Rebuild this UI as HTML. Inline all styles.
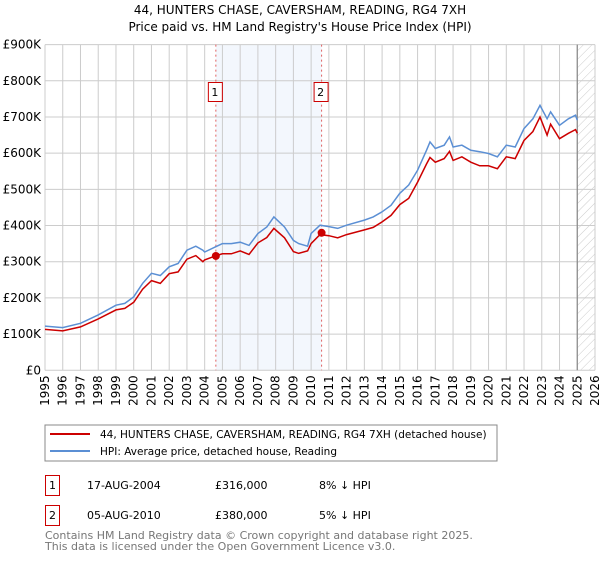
<!DOCTYPE html>
<html><head><meta charset="utf-8"><style>
body{margin:0;background:#fff;font-family:"DejaVu Sans","Liberation Sans",sans-serif;}
svg text{font-family:"DejaVu Sans","Liberation Sans",sans-serif;}
</style></head><body>
<svg id="chart" width="600" height="560" viewBox="0 0 600 560">
<defs><pattern id="hatch" width="6" height="6" patternUnits="userSpaceOnUse" patternTransform="rotate(45)"><line x1="0" y1="0" x2="0" y2="6" stroke="#ccc" stroke-width="1"/></pattern></defs>
<text x="300" y="14" text-anchor="middle" font-size="12">44, HUNTERS CHASE, CAVERSHAM, READING, RG4 7XH</text>
<text x="300" y="31" text-anchor="middle" font-size="12">Price paid vs. HM Land Registry's House Price Index (HPI)</text>
<g id="plot"></g>
<rect x="45" y="425" width="452" height="36" fill="#fff" stroke="#888"/>
<line x1="50" y1="434" x2="90" y2="434" stroke="#cc0000" stroke-width="2"/>
<text x="100" y="438" font-size="10.5">44, HUNTERS CHASE, CAVERSHAM, READING, RG4 7XH (detached house)</text>
<line x1="50" y1="451" x2="90" y2="451" stroke="#5b8fd4" stroke-width="2"/>
<text x="100" y="455" font-size="10.5">HPI: Average price, detached house, Reading</text>
<g>
<rect x="45.5" y="475.5" width="14" height="20" fill="none" stroke="#cc0000"/>
<text x="52.5" y="489" text-anchor="middle" font-size="11">1</text>
<text x="87" y="489" font-size="11">17-AUG-2004</text>
<text x="215" y="489" font-size="11">£316,000</text>
<text x="319" y="489" font-size="11">8% ↓ HPI</text></g>
<g>
<rect x="45.5" y="505.5" width="14" height="20" fill="none" stroke="#cc0000"/>
<text x="52.5" y="519" text-anchor="middle" font-size="11">2</text>
<text x="87" y="519" font-size="11">05-AUG-2010</text>
<text x="215" y="519" font-size="11">£380,000</text>
<text x="319" y="519" font-size="11">5% ↓ HPI</text></g>
<text x="45" y="539" font-size="11" fill="#777">Contains HM Land Registry data © Crown copyright and database right 2025.</text>
<text x="45" y="550" font-size="11" fill="#777">This data is licensed under the Open Government Licence v3.0.</text>
</svg>
<script>
const dates=[1995,1996,1997,1998,1999,1999.5,2000,2000.5,2001,2001.5,2002,2002.5,2003,2003.5,2003.9,2004,2004.6,2005,2005.5,2006,2006.5,2007,2007.5,2007.9,2008.5,2009,2009.3,2009.8,2010,2010.5,2011,2011.5,2012,2013,2013.5,2014,2014.5,2015,2015.5,2016,2016.5,2016.7,2017,2017.5,2017.8,2018,2018.5,2019,2019.5,2020,2020.5,2021,2021.5,2022,2022.5,2022.9,2023.3,2023.5,2024,2024.5,2024.9,2025.0];
const hpiValues=[122,118,130,153,180,185,203,240,268,262,286,295,332,343,332,327,341,350,350,354,345,378,396,424,396,359,350,343,378,401,397,392,401,415,424,438,456,489,512,553,608,631,613,622,645,617,622,608,604,599,590,622,617,668,695,732,695,714,677,695,705,691];
const priceValues=[113,109,120,142,167,171,188,224,248,240,267,272,307,317,300,305,316,322,322,330,320,352,367,392,366,328,323,330,350,375,372,366,375,388,395,410,428,458,475,520,570,588,575,585,605,580,590,575,565,565,557,590,585,635,660,700,650,680,640,655,665,655];
const saleDates=[2004.63,2010.59];
const salePrices=[316,380];
const saleLabels=["1","2"];
const yTicks=[0,100,200,300,400,500,600,700,800,900];
const yTickLabels=["£0","£100K","£200K","£300K","£400K","£500K","£600K","£700K","£800K","£900K"];
const xTicks=[1995,1996,1997,1998,1999,2000,2001,2002,2003,2004,2005,2006,2007,2008,2009,2010,2011,2012,2013,2014,2015,2016,2017,2018,2019,2020,2021,2022,2023,2024,2025,2026];
const X0=45,X1=595,Y0=370.3,Y1=44.6;
const xs=d=>X0+(d-1995)/(2026-1995)*(X1-X0);
const ys=v=>Y0+(v/900)*(Y1-Y0);
const NS="http://www.w3.org/2000/svg";
const g=document.getElementById('plot');
function mk(t,a,p){const e=document.createElementNS(NS,t);for(const k in a)e.setAttribute(k,a[k]);(p||g).appendChild(e);return e;}
let e=mk('rect',{x:xs(saleDates[0]),y:Y1,width:xs(saleDates[1])-xs(saleDates[0]),height:Y0-Y1,fill:'#eef3fc',opacity:0.7});


e=mk('rect',{x:xs(2025),y:Y1,width:X1-xs(2025),height:Y0-Y1,fill:'url(#hatch)'});


yTicks.forEach((v,i)=>{
 let l=mk('line',{x1:X0,x2:X1,y1:ys(v),y2:ys(v),stroke:'#ccc'});
 
 
 let t=mk('text',{x:X0-4,y:ys(v)+4,'text-anchor':'end','font-size':12});
 t.textContent=yTickLabels[i];
 
 
});
xTicks.forEach(d=>{
 let l=mk('line',{x1:xs(d),x2:xs(d),y1:Y1,y2:Y0,stroke:'#ccc'});
 
 
 let t=mk('text',{x:0,y:0,'text-anchor':'end','font-size':12,transform:`translate(${xs(d)+4},${Y0+5}) rotate(-90)`});
 t.textContent=d;
 
 
});
e=mk('line',{x1:xs(2025),x2:xs(2025),y1:Y1,y2:Y0,stroke:'#888','stroke-width':1.2});


saleDates.forEach((d,i)=>{
 let l=mk('line',{x1:xs(d),x2:xs(d),y1:Y1,y2:Y0,stroke:'#e06060','stroke-dasharray':'2,3'});
 
 
 let r=mk('rect',{x:xs(d)-7.5,y:82.5,width:14,height:19,fill:'#fff',stroke:'#cc0000'});
 
 
 let t=mk('text',{x:xs(d)-1,y:96,'text-anchor':'middle','font-size':11});
 t.textContent=saleLabels[i];
 
 
});
function path(vals,color,name){
 const p=mk('path',{d:vals.map((v,i)=>(i?'L':'M')+xs(dates[i]).toFixed(1)+','+ys(v).toFixed(1)).join(''),fill:'none',stroke:color,'stroke-width':1.5});
 
 
}
path(hpiValues,'#5b8fd4','hpi-line');
path(priceValues,'#cc0000','price-line');
saleDates.forEach((d,i)=>{
 let c=mk('circle',{cx:xs(d),cy:ys(salePrices[i]),r:4,fill:'#cc0000'});
 
 
});
</script>
</body></html>
